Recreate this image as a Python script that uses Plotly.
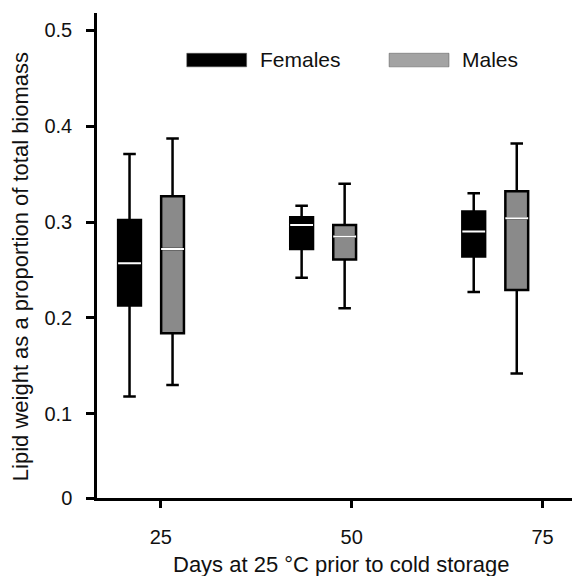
import plotly.graph_objects as go

# ---- data ----
days = ["25", "50", "75"]
series_names = ["Females", "Males"]

fem_low = [0.118, 0.242, 0.227]
fem_q1 = [0.213, 0.272, 0.264]
fem_med = [0.257, 0.297, 0.290]
fem_q3 = [0.302, 0.305, 0.311]
fem_high = [0.371, 0.317, 0.330]

mal_low = [0.130, 0.210, 0.142]
mal_q1 = [0.184, 0.261, 0.229]
mal_med = [0.272, 0.285, 0.304]
mal_q3 = [0.327, 0.297, 0.332]
mal_high = [0.387, 0.340, 0.382]

tick_days = [25, 50, 75]
y_tickvals = [0.0122, 0.1, 0.2, 0.3, 0.4, 0.5]
y_ticktext = ["0", "0.1", "0.2", "0.3", "0.4", "0.5"]
x_title = "Days at 25 °C prior to cold storage"
y_title = "Lipid weight as a proportion of total biomass"

FONT = "Liberation Sans, Arial, sans-serif"
TXT = "#111111"
fem_fill = "#000000"
mal_fill = "#8a8a8a"
mal_legend = "#a3a3a3"

fig = go.Figure()

def add_series(low, q1, med, q3, high, fill, group):
    fig.add_trace(go.Box(
        x=days, q1=q1, median=med, q3=q3, lowerfence=low, upperfence=high,
        fillcolor=fill, line=dict(color="black", width=2.5), whiskerwidth=0.55,
        offsetgroup=group, alignmentgroup="a", showlegend=False, boxpoints=False,
        hoverinfo="skip", xaxis="x", yaxis="y",
    ))

def add_median(med, group):
    fig.add_trace(go.Box(
        x=days, q1=med, median=med, q3=med, lowerfence=med, upperfence=med,
        fillcolor="rgba(0,0,0,0)", line=dict(color="white", width=2), whiskerwidth=0,
        offsetgroup=group, alignmentgroup="a", showlegend=False, boxpoints=False,
        hoverinfo="skip", xaxis="x", yaxis="y",
    ))

add_series(fem_low, fem_q1, fem_med, fem_q3, fem_high, fem_fill, "F")
add_series(mal_low, mal_q1, mal_med, mal_q3, mal_high, mal_fill, "M")
add_median(fem_med, "F")
add_median(mal_med, "M")

# invisible trace to activate the tick axis
fig.add_trace(go.Scatter(x=tick_days, y=[None] * 3, xaxis="x2", yaxis="y",
                         showlegend=False, hoverinfo="skip", mode="markers"))

# manual legend
legend_colors = [fem_fill, mal_legend]
legend_x = [0.189, 0.615]
for name, col, lx in zip(series_names, legend_colors, legend_x):
    fig.add_shape(type="rect", xref="paper", yref="paper",
                  x0=lx, x1=lx + 0.126, y0=0.889, y1=0.917,
                  fillcolor=col, line=dict(color="#555", width=0.5))
    fig.add_annotation(xref="paper", yref="paper", x=lx + 0.150, y=0.904,
                       text=name, showarrow=False, xanchor="left", yanchor="middle",
                       font=dict(family=FONT, size=21, color=TXT))

# axis titles
fig.add_annotation(xref="paper", yref="paper", x=0.515, y=-0.138, text=x_title,
                   showarrow=False, xanchor="center", yanchor="middle",
                   font=dict(family=FONT, size=22, color=TXT))
fig.add_annotation(xref="paper", yref="paper", x=-0.162, y=0.476, text=y_title,
                   showarrow=False, xanchor="center", yanchor="middle", textangle=-90,
                   font=dict(family=FONT, size=22, color=TXT))

fig.update_layout(
    width=574, height=576,
    margin=dict(l=97, r=2, t=13, b=78, autoexpand=False),
    paper_bgcolor="white", plot_bgcolor="white",
    boxmode="group", boxgap=0.5, boxgroupgap=0.47,
    font=dict(family=FONT, size=20, color=TXT),
    xaxis=dict(type="category", range=[-0.314, 2.446], visible=False,
               showgrid=False, zeroline=False, automargin=False),
    xaxis2=dict(overlaying="x", side="bottom", anchor="y", range=[16.64, 78.86],
                tickvals=tick_days, ticktext=days, ticks="outside", ticklen=7,
                tickwidth=2.5, tickcolor="black", showline=True, linecolor="black",
                linewidth=2.5, showgrid=False, zeroline=False, ticklabelstandoff=12,
                automargin=False,
                tickfont=dict(family=FONT, size=20, color=TXT)),
    yaxis=dict(range=[0.0122, 0.518], tickvals=y_tickvals, ticktext=y_ticktext,
               ticks="outside", ticklen=8, tickwidth=2.5, tickcolor="black",
               showline=True, linecolor="black", linewidth=2.5, showgrid=False,
               zeroline=False, ticklabelstandoff=10, automargin=False,
               tickfont=dict(family=FONT, size=20, color=TXT)),
)

fig.write_html("out.html", config={"displayModeBar": False},
               post_script="document.body.style.margin='0';document.body.style.overflow='hidden';")
